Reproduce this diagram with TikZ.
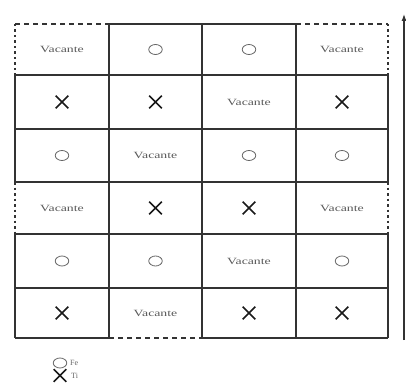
\documentclass[tikz,border=0pt]{standalone}
\usepackage{fontspec}
\setmainfont{Liberation Serif}
\newfontfamily\vacfont[FakeStretch=1.45]{Liberation Serif}
\usetikzlibrary{shapes.geometric,shapes.misc,arrows.meta}
\tikzset{
  gridline/.style={draw=black!80, line width=1.1pt},
  dashline/.style={draw=black!80, line width=1.1pt, dash pattern=on 5pt off 4pt},
  dotline/.style={draw=black!80, line width=1.4pt, dash pattern=on 2.5pt off 3pt},
  vac/.style={font=\vacfont\fontsize{9.5}{10}\selectfont, text=black!65, inner sep=0pt},
  fe/.style={draw=black!60, ellipse, minimum width=13.5pt, minimum height=10pt, inner sep=0pt, line width=0.8pt},
  ti/.style={draw=black!90, cross out, minimum width=11pt, minimum height=11pt, inner sep=0pt, line width=1.6pt},
  leg/.style={font=\fontsize{8}{9}\selectfont, text=black!60, inner sep=0pt, anchor=west}
}
\begin{document}
\begin{tikzpicture}[x=1pt,y=-1pt]
\useasboundingbox (0,0) rectangle (406,390);
% solid grid lines
\draw[gridline] (109,24) -- (296,24);
\draw[gridline] (15,75) -- (388,75);
\draw[gridline] (15,129) -- (388,129);
\draw[gridline] (15,182) -- (388,182);
\draw[gridline] (15,234) -- (388,234);
\draw[gridline] (15,288) -- (388,288);
\draw[gridline] (15,338) -- (109,338);
\draw[gridline] (202,338) -- (388,338);
\draw[gridline] (15,75) -- (15,182);
\draw[gridline] (15,234) -- (15,338);
\draw[gridline] (388,75) -- (388,182);
\draw[gridline] (388,234) -- (388,338);
\draw[gridline] (109,24) -- (109,338);
\draw[gridline] (202,24) -- (202,338);
\draw[gridline] (296,24) -- (296,338);
% dashed edges
\draw[dashline] (15,24) -- (109,24);
\draw[dashline] (296,24) -- (388,24);
\draw[dashline] (109,338) -- (202,338);
\draw[dotline] (15,24) -- (15,75);
\draw[dotline] (388,24) -- (388,75);
\draw[dotline] (15,182) -- (15,234);
\draw[dotline] (388,182) -- (388,234);
% arrow at right
\coordinate (abot) at (404,340);
\coordinate (atop) at (404,14);
\draw[draw=black!80, line width=1.1pt, -{Latex[length=7pt,width=5pt]}] (abot) -- (atop);
% row 1
\node[vac] (c11) at (62,49.5) {Vacante};
\node[fe] (c12) at (155.5,49.5) {};
\node[fe] (c13) at (249,49.5) {};
\node[vac] (c14) at (342,49.5) {Vacante};
% row 2
\node[ti] (c21) at (62,102) {};
\node[ti] (c22) at (155.5,102) {};
\node[vac] (c23) at (249,102) {Vacante};
\node[ti] (c24) at (342,102) {};
% row 3
\node[fe] (c31) at (62,155.5) {};
\node[vac] (c32) at (155.5,155.5) {Vacante};
\node[fe] (c33) at (249,155.5) {};
\node[fe] (c34) at (342,155.5) {};
% row 4
\node[vac] (c41) at (62,208) {Vacante};
\node[ti] (c42) at (155.5,208) {};
\node[ti] (c43) at (249,208) {};
\node[vac] (c44) at (342,208) {Vacante};
% row 5
\node[fe] (c51) at (62,261) {};
\node[fe] (c52) at (155.5,261) {};
\node[vac] (c53) at (249,261) {Vacante};
\node[fe] (c54) at (342,261) {};
% row 6
\node[ti] (c61) at (62,313) {};
\node[vac] (c62) at (155.5,313) {Vacante};
\node[ti] (c63) at (249,313) {};
\node[ti] (c64) at (342,313) {};
% legend
\node[fe] (lfe) at (60,363) {};
\node[leg] (lfet) at (70,363) {Fe};
\node[ti] (lti) at (60,375.5) {};
\node[leg] (ltit) at (71,375.5) {Ti};
\end{tikzpicture}
\end{document}
